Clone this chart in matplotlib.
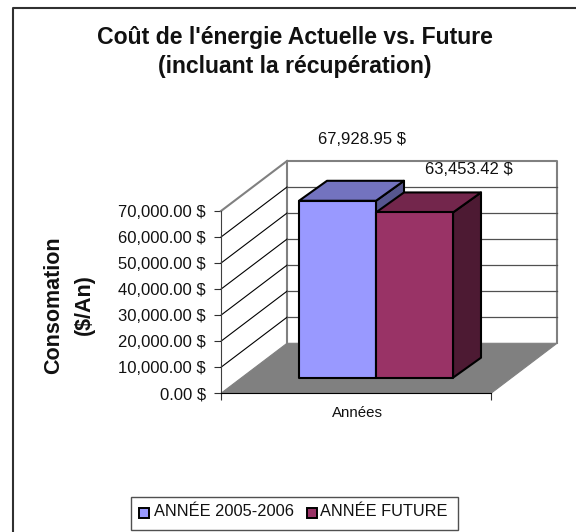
import matplotlib
matplotlib.use("Agg")
import matplotlib.pyplot as plt
from matplotlib.patches import Polygon, Rectangle

# Valeurs
series_names = ["ANNÉE 2005-2006", "ANNÉE FUTURE"]
series_values = [67928.95, 63453.42]
value_labels = ["67,928.95 $", "63,453.42 $"]
y_ticks = [0, 10000, 20000, 30000, 40000, 50000, 60000, 70000]
y_tick_labels = ["0.00 $", "10,000.00 $", "20,000.00 $", "30,000.00 $",
                 "40,000.00 $", "50,000.00 $", "60,000.00 $", "70,000.00 $"]
category = "Années"

W, H = 576, 532
plt.rcParams["font.family"] = ["Liberation Sans", "DejaVu Sans"]

fig = plt.figure(figsize=(W / 100, H / 100), dpi=100, facecolor="white")

# Cadre du graphique (seuls le haut et la gauche sont dans l'image)
fig.add_artist(plt.Line2D([13 / W, 13 / W, 1], [0, 1 - 8 / H, 1 - 8 / H], transform=fig.transFigure,
                          color="#303030", linewidth=1.5))

# Axe principal : plan avant du graphique 3D
left, right, top, bottom = 221, 491, 211, 393.3
ax = fig.add_axes([left / W, 1 - bottom / H, (right - left) / W, (bottom - top) / H])
ax.set_xlim(0, 1)
ax.set_ylim(0, 70000)
ax.patch.set_visible(False)
for s in ["top", "right"]:
    ax.spines[s].set_visible(False)
ax.spines["left"].set_color("#404040")
ax.spines["bottom"].set_color("black")
ax.spines["left"].set_zorder(6)
ax.spines["bottom"].set_zorder(6)

ax.set_yticks(y_ticks)
ax.set_yticklabels(y_tick_labels, fontsize=12, color="#111111")
ax.set_xticks([0, 1])
ax.set_xticklabels(["", ""])
ax.tick_params(axis="both", direction="out", length=5, width=0.8, color="#303030", pad=6)

# Profondeur de la projection
dx = 66 / (right - left)
dy = 50 / (bottom - top) * 70000


def poly(points, **kw):
    kw.setdefault("clip_on", False)
    ax.add_patch(Polygon(points, closed=True, **kw))


# Sol et murs
poly([(0, 0), (1, 0), (1 + dx, dy), (dx, dy)], facecolor="#808080", edgecolor="#808080", linewidth=0.8, zorder=1)
wall_top = 70000 + dy
ax.plot([dx, dx, 1 + dx, 1 + dx], [dy, wall_top, wall_top, dy], color="#808080", linewidth=1.5, clip_on=False, zorder=2)
ax.plot([0, dx], [70000, wall_top], color="#808080", linewidth=1.5, clip_on=False, zorder=2)

# Quadrillage
for v in y_ticks[1:-1]:
    ax.plot([0, dx], [v, v + dy], color="black", linewidth=0.8, clip_on=False, zorder=2)
for v in y_ticks[1:-1]:
    ax.plot([dx, 1 + dx], [v + dy, v + dy], color="#505050", linewidth=0.9, clip_on=False, zorder=2)

# Barres
bar_x0 = (299 - left) / (right - left)
bar_w = 77 / (right - left)
bar_base = 15.6 / (bottom - top) * 70000
bar_dx = 28 / (right - left)
bar_dy = 20 / (bottom - top) * 70000
colors = [("#9999FF", "#7373BF", "#56568F"), ("#993366", "#73264C", "#4D1A33")]

for i, val in enumerate(series_values):
    x0 = bar_x0 + i * bar_w
    x1 = x0 + bar_w
    z = 3 + i
    front, dessus, cote = colors[i]
    y1 = bar_base + val
    poly([(x1, bar_base), (x1 + bar_dx, bar_base + bar_dy), (x1 + bar_dx, y1 + bar_dy), (x1, y1)],
         facecolor=cote, edgecolor="black", linewidth=1.5, joinstyle="round", zorder=z)
    poly([(x0, y1), (x1, y1), (x1 + bar_dx, y1 + bar_dy), (x0 + bar_dx, y1 + bar_dy)],
         facecolor=dessus, edgecolor="black", linewidth=1.5, joinstyle="round", zorder=z)
    poly([(x0, bar_base), (x1, bar_base), (x1, y1), (x0, y1)],
         facecolor=front, edgecolor="black", linewidth=1.5, joinstyle="round", zorder=z)

# Etiquettes de valeurs
fig.text(362 / W, 1 - 140 / H, value_labels[0], fontsize=12, ha="center", va="center", color="#111111")
fig.text(469 / W, 1 - 169 / H, value_labels[1], fontsize=12, ha="center", va="center", color="#111111", zorder=5)
fig.text(357.5 / W, 1 - 413 / H, category, fontsize=10.8, ha="center", va="center", color="#111111")

# Titres
fig.text(295 / W, 1 - 52 / H, "Coût de l'énergie Actuelle vs. Future\n(incluant la récupération)",
         fontsize=16.6, fontweight="bold", ha="center", va="center", linespacing=1.36, color="#111111")
fig.text(69 / W, 1 - 305 / H, "Consomation\n($/An)", fontsize=15.5, fontweight="bold",
         rotation=90, ha="center", va="center", multialignment="center", linespacing=1.65, color="#111111")

# Légende
fig.add_artist(Rectangle((131 / W, 1 - 530 / H), 327 / W, 33 / H, transform=fig.transFigure,
                         facecolor="white", edgecolor="#505050", linewidth=1))
leg_x = [138.5, 306.5]
text_x = [154.5, 320.5]
for i, name in enumerate(series_names):
    fig.add_artist(Rectangle((leg_x[i] / W, 1 - 518 / H), 10 / W, 10.5 / H, transform=fig.transFigure,
                             facecolor=colors[i][0], edgecolor="black", linewidth=1.4))
    fig.text(text_x[i] / W, 1 - 511 / H, name, fontsize=11.8, ha="left", va="center", color="#111111")

fig.savefig("out.png", dpi=100)
